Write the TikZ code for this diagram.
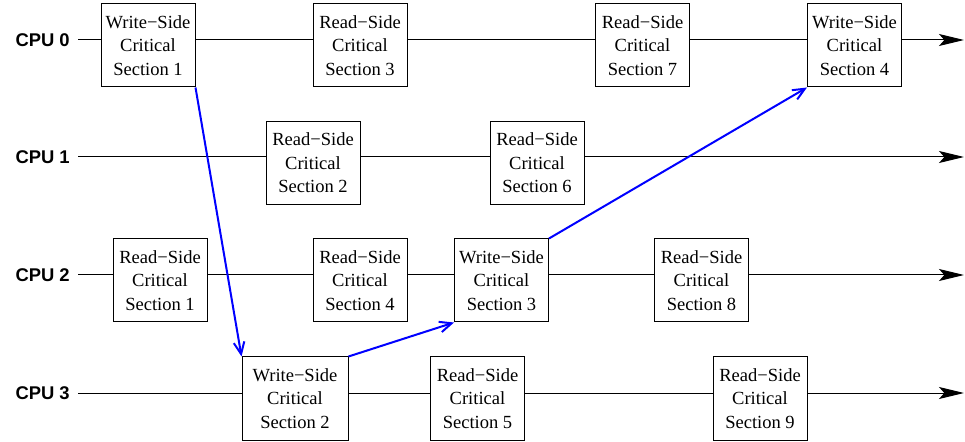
\documentclass[tikz,border=0pt]{standalone}
\usepackage{fontspec}
\setmainfont{Liberation Serif}
\newfontfamily\cpufont{Liberation Sans}
\usetikzlibrary{arrows.meta}
\begin{document}
\begin{tikzpicture}[x=0.75pt,y=-0.75pt,
  sect/.style={draw=black, line width=0.75pt, fill=white,
    minimum width=70.5pt, minimum height=62.25pt, inner sep=0pt,
    align=center, font=\fontsize{13.9}{17.6}\selectfont},
  widesect/.style={sect, minimum width=79.5pt},
  timeline/.style={line width=0.75pt,
    -{Stealth[length=18.75pt,width=9pt,inset=4pt]}},
  cpu/.style={anchor=east, inner sep=0pt,
    font=\cpufont\bfseries\fontsize{13.8}{16}\selectfont},
  handoff/.style={draw=blue, line width=1.5pt,
    -{Straight Barb[length=9pt,width=8pt]}}]
\useasboundingbox (0,0) rectangle (965,442);

% CPU labels and time lines
\node[cpu] (cpu0) at (70,40) {CPU 0};
\node[cpu] (cpu1) at (70,157) {CPU 1};
\node[cpu] (cpu2) at (70,275) {CPU 2};
\node[cpu] (cpu3) at (70,393) {CPU 3};
\foreach \i/\y in {0/40,1/157,2/275,3/393}{
  \coordinate (s\i) at (78,\y);
  \coordinate (e\i) at (964,\y);
  \draw[timeline] (s\i) -- (e\i);
}

% CPU 0
\node[sect] (ws1) at (148,45.5)   {Write−Side\\Critical\\Section 1};
\node[sect] (rs3) at (360,45.5)   {Read−Side\\Critical\\Section 3};
\node[sect] (rs7) at (642.5,45.5) {Read−Side\\Critical\\Section 7};
\node[sect] (ws4) at (854.5,45.5) {Write−Side\\Critical\\Section 4};
% CPU 1
\node[sect] (rs2) at (313,163) {Read−Side\\Critical\\Section 2};
\node[sect] (rs6) at (537,163) {Read−Side\\Critical\\Section 6};
% CPU 2
\node[sect] (rs1) at (160,280.5)   {Read−Side\\Critical\\Section 1};
\node[sect] (rs4) at (360,280.5)   {Read−Side\\Critical\\Section 4};
\node[sect] (ws3) at (501.5,280.5) {Write−Side\\Critical\\Section 3};
\node[sect] (rs8) at (701.5,280.5) {Read−Side\\Critical\\Section 8};
% CPU 3
\node[widesect] (ws2) at (295,398.5) {Write−Side\\Critical\\Section 2};
\node[sect] (rs5) at (477.5,398.5)   {Read−Side\\Critical\\Section 5};
\node[sect] (rs9) at (760,398.5)     {Read−Side\\Critical\\Section 9};

% ordering between write-side critical sections
\draw[handoff] (ws1.south east) -- (ws2.north west);
\draw[handoff] (ws2.north east) -- (ws3.south west);
\draw[handoff] (ws3.north east) -- (ws4.south west);
\end{tikzpicture}
\end{document}
